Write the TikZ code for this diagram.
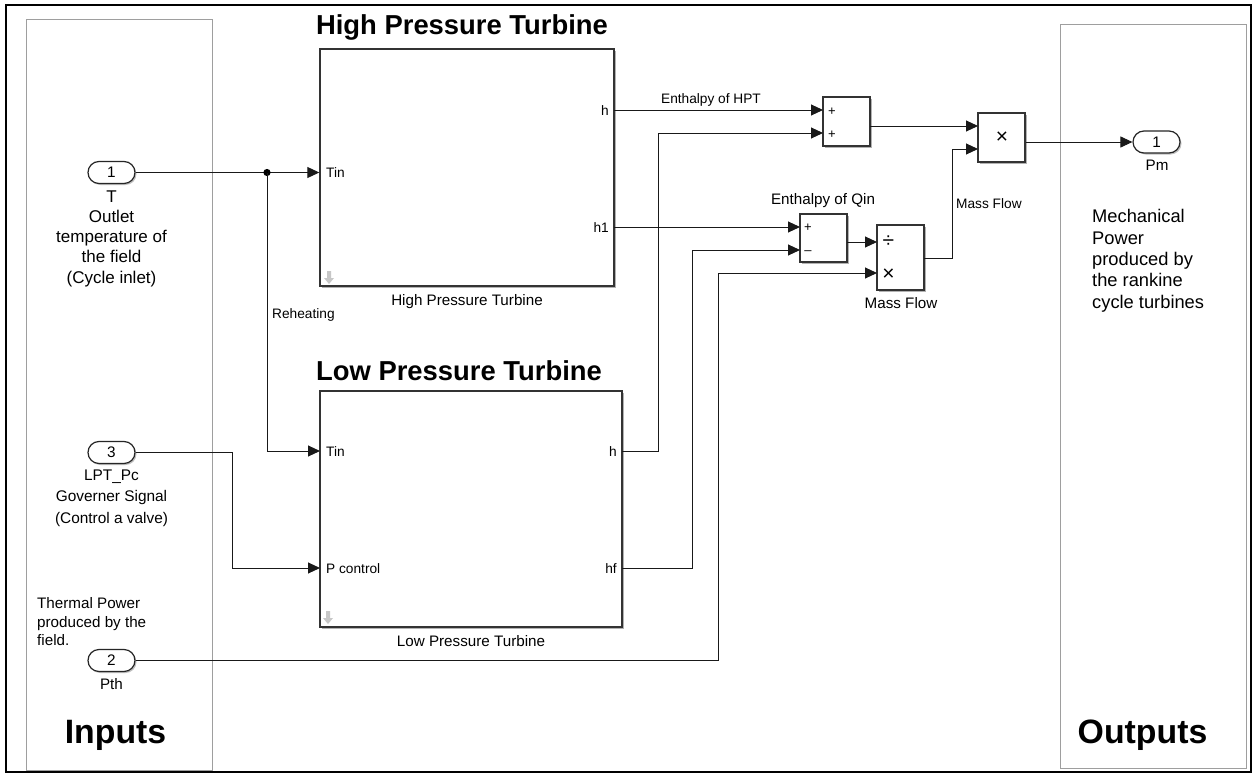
\documentclass[tikz,border=0pt]{standalone}
\usepackage{fontspec}
\setmainfont{Liberation Sans}
\usetikzlibrary{arrows.meta,shapes.misc,shadows}
\newcommand\fsz[2]{\fontsize{#1}{#2}\selectfont}
\begin{document}
\begin{tikzpicture}[x=1pt,y=-1pt,
  frame/.style={draw=black, line width=2.5pt},
  grpbox/.style={draw=black!38, line width=1pt, inner sep=0pt},
  block/.style={draw=black!80, fill=white, line width=1.4pt, inner sep=0pt,
    general shadow={fill=black!30, shadow xshift=2pt, shadow yshift=-2pt}},
  port/.style={rounded rectangle, draw=black!85, fill=white, line width=1.2pt,
    minimum width=47pt, minimum height=22pt, inner sep=0pt,
    general shadow={fill=black!25, shadow xshift=1.5pt, shadow yshift=-1.5pt},
    font=\fsz{15.3}{18}},
  wire/.style={draw=black!90, line width=1pt},
  arr/.style={wire, -{Triangle[length=12pt,width=11pt]}},
  plbl/.style={font=\fsz{13.7}{16}, inner sep=0pt},
  slbl/.style={font=\fsz{13.7}{16}, inner sep=0pt},
  blbl/.style={font=\fsz{15.2}{18}, inner sep=0pt},
  title/.style={font=\bfseries\fsz{27.4}{32}, inner sep=0pt},
  big/.style={font=\bfseries\fsz{33.8}{40}, inner sep=0pt},
  sign/.style={font=\fsz{13}{15}, inner sep=0pt},
  ops/.style={font=\fsz{21}{23}, inner sep=0pt},
  icon/.style={fill=black!22, draw=none}
]
\useasboundingbox (0,0) rectangle (1258,776);
\fill[white] (0,0) rectangle (1258,776);

% group boxes
\node[grpbox, minimum width=186pt, minimum height=750pt] (inbox) at (119,395) {};
\node[grpbox, minimum width=186pt, minimum height=743pt] (outbox) at (1153,396.5) {};
\draw[frame] (6,5) rectangle (1251,772);

% inports
\node[port] (in1) at (111.5,172.5) {1};
\node[port] (in3) at (111.5,452.5) {3};
\node[port] (in2) at (111.5,660.5) {2};
\node[align=center, anchor=north, inner sep=0pt, font=\fsz{17}{20.2}] (in1lbl) at (111.5,190.5)
  {T\\Outlet\\temperature of\\the field\\(Cycle inlet)};
\node[align=center, anchor=north, inner sep=0pt, font=\fsz{15.4}{21.4}] (in3lbl) at (111.5,469.5)
  {LPT\_Pc\\Governer Signal\\(Control a valve)};
\node[align=left, anchor=north west, inner sep=0pt, font=\fsz{15.2}{18.5}] (thlbl) at (37,597.5)
  {Thermal Power\\produced by the\\field.};
\node[blbl, anchor=base] (in2lbl) at (111.5,689.5) {Pth};
\node[big, anchor=base] (inputs) at (115.5,743) {Inputs};

% outport
\node[port] (out1) at (1156.5,142) {1};
\node[blbl, anchor=base] (out1lbl) at (1157,170) {Pm};
\node[align=left, anchor=north west, inner sep=0pt, font=\fsz{18.3}{21.3}] (mechlbl) at (1092,209.5)
  {Mechanical\\Power\\produced by\\the rankine\\cycle turbines};
\node[big, anchor=base] (outputs) at (1142.5,743) {Outputs};

% High pressure turbine
\node[block, minimum width=294pt, minimum height=237pt] (hpt) at (467,167.5) {};
\node[title, anchor=base] (hpttitle) at (462,35) {High Pressure Turbine};
\node[blbl, anchor=base] (hptcap) at (467,305) {High Pressure Turbine};
\coordinate (hptTin) at (hpt.west |- in1.east);
\coordinate (hptH) at (614,110);
\coordinate (hptH1) at (614,227);
\node[plbl, anchor=base west] at (326,177.5) {Tin};
\node[plbl, anchor=base east] at (609,115) {h};
\node[plbl, anchor=base east] at (609,232) {h1};
\fill[icon] (327,271) rectangle (331,278) -- (324,278) -- (329,284) -- (334,278) -- cycle;

% Low pressure turbine
\node[block, minimum width=302pt, minimum height=236pt] (lpt) at (471,509) {};
\node[title, anchor=base] (lpttitle) at (459,380) {Low Pressure Turbine};
\node[blbl, anchor=base] (lptcap) at (471,646) {Low Pressure Turbine};
\coordinate (lptTin) at (320,451);
\coordinate (lptP) at (320,568);
\coordinate (lptH) at (622,451);
\coordinate (lptHf) at (622,568);
\node[plbl, anchor=base west] at (326,456) {Tin};
\node[plbl, anchor=base west] at (326,573) {P control};
\node[plbl, anchor=base east] at (617,456) {h};
\node[plbl, anchor=base east] at (617,573) {hf};
\fill[icon] (326,611) rectangle (330,618) -- (323,618) -- (328,624) -- (333,618) -- cycle;

% sum 1
\node[block, minimum width=47pt, minimum height=49pt] (sum1) at (846.5,121.5) {};
\coordinate (s1a) at (823,110);
\coordinate (s1b) at (823,133);
\coordinate (s1out) at (870,126);
\node[sign, anchor=base] at (832,115.5) {+};
\node[sign, anchor=base] at (832,138) {+};

% sum 2
\node[block, minimum width=47pt, minimum height=48pt] (sum2) at (823.5,238) {};
\coordinate (s2a) at (800,227);
\coordinate (s2b) at (800,250);
\coordinate (s2out) at (847,242);
\node[sign, anchor=base] at (808,231.5) {+};
\node[sign, anchor=base] at (808,254.5) {–};
\node[blbl, anchor=base] (sum2lbl) at (823,204) {Enthalpy of Qin};

% divide
\node[block, minimum width=47pt, minimum height=65pt] (div) at (900.5,257.5) {};
\coordinate (dA) at (877,242);
\coordinate (dB) at (877,273);
\coordinate (dout) at (924,258);
\node[ops, anchor=center] at (888.5,242) {÷};
\node[ops, anchor=center] at (888.5,275) {×};
\node[blbl, anchor=base] (divlbl) at (901,308) {Mass Flow};

% product
\node[block, minimum width=47pt, minimum height=49pt] (prod) at (1001.5,137.5) {};
\coordinate (pA) at (978,126);
\coordinate (pB) at (978,149);
\node[ops, anchor=center] at (1002,138) {×};

% wires
\coordinate (jn) at (267,172.5);
\draw[arr] (in1.east) -- (hptTin);
\fill[black] (jn) circle[radius=3.6pt];
\draw[arr] (jn) |- (lptTin);
\node[slbl, anchor=base west] at (272,318) {Reheating};
\draw[arr] (in3.east) -- ++(97,0) |- (lptP);
\draw[arr] (in2.east) -- ++(583,0) |- (dB);

\draw[arr] (hptH) -- (s1a);
\node[slbl, anchor=base] at (711,103) {Enthalpy of HPT};
\draw[arr] (hptH1) -- (s2a);
\draw[arr] (lptH) -- ++(36,0) |- (s1b);
\draw[arr] (lptHf) -- ++(70,0) |- (s2b);
\draw[arr] (s1out) -- (pA);
\draw[arr] (s2out) -- (dA);
\draw[arr] (dout) -- ++(28,0) |- (pB);
\node[slbl, anchor=base west] at (956,208) {Mass Flow};
\draw[arr] (prod.east |- out1.west) -- (out1.west);
\end{tikzpicture}
\end{document}
